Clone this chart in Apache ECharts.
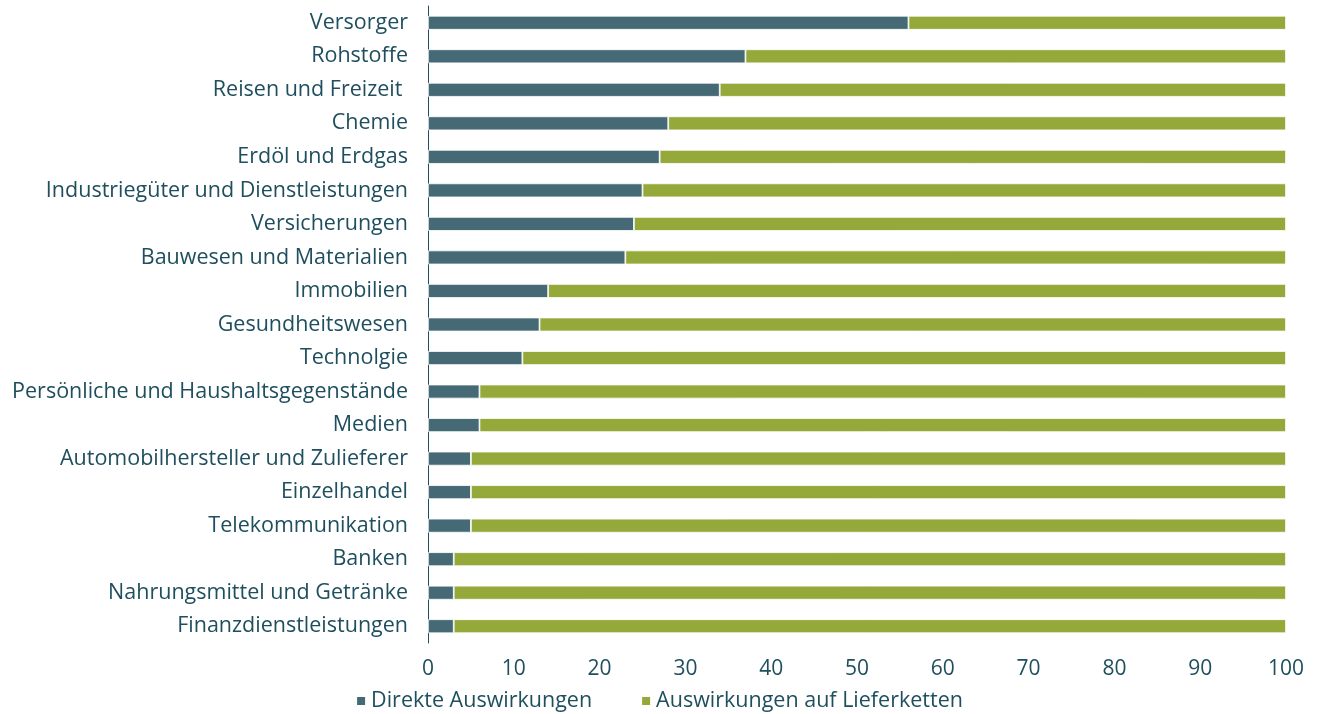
<!DOCTYPE html>
<html>
<head>
<meta charset="utf-8">
<script src="https://cdn.jsdelivr.net/npm/echarts@6/dist/echarts.min.js"></script>
<style>
  html, body { margin: 0; padding: 0; background: #fff; }
  #chart { width: 1318px; height: 714px; }
</style>
</head>
<body>
<div id="chart"></div>
<script>
// categories top to bottom as in the picture
const sectors = [
  'Versorger', 'Rohstoffe', 'Reisen und Freizeit ', 'Chemie', 'Erdöl und Erdgas',
  'Industriegüter und Dienstleistungen', 'Versicherungen', 'Bauwesen und Materialien',
  'Immobilien', 'Gesundheitswesen', 'Technolgie', 'Persönliche und Haushaltsgegenstände',
  'Medien', 'Automobilhersteller und Zulieferer', 'Einzelhandel', 'Telekommunikation',
  'Banken', 'Nahrungsmittel und Getränke', 'Finanzdienstleistungen'
];
const direkt = [56, 37, 34, 28, 27, 25, 24, 23, 14, 13, 11, 6, 6, 5, 5, 5, 3, 3, 3];
const lieferketten = [44, 63, 66, 72, 73, 75, 76, 77, 86, 87, 89, 94, 94, 95, 95, 95, 97, 97, 97];

const textColor = '#1f4f5e';
const chart = echarts.init(document.getElementById('chart'));

chart.setOption({
  backgroundColor: '#fff',
  animation: false,
  textStyle: { fontFamily: 'Open Sans' },
  grid: { left: 428, right: 32, top: 6, bottom: 71 },
  legend: {
    bottom: -3,
    left: 'center',
    itemWidth: 10,
    itemHeight: 10,
    itemGap: 48,
    icon: 'rect',
    textStyle: { color: textColor, fontSize: 21.5, fontFamily: 'Open Sans' },
    data: ['Direkte Auswirkungen', 'Auswirkungen auf Lieferketten']
  },
  xAxis: {
    type: 'value',
    min: 0,
    max: 100,
    interval: 10,
    axisLine: { show: false },
    axisTick: { show: false },
    splitLine: { show: false },
    axisLabel: { color: textColor, fontSize: 21, margin: 16 }
  },
  yAxis: {
    type: 'category',
    inverse: true,
    data: sectors,
    axisLine: { show: true, lineStyle: { color: '#1f4f5e', width: 1 } },
    axisTick: { show: false },
    axisLabel: { color: textColor, fontSize: 21.5, margin: 20 }
  },
  series: [
    {
      name: 'Direkte Auswirkungen',
      type: 'bar',
      stack: 'total',
      barWidth: 14,
      data: direkt,
      itemStyle: { color: '#456a75', borderColor: '#fff', borderWidth: 0.8 }
    },
    {
      name: 'Auswirkungen auf Lieferketten',
      type: 'bar',
      stack: 'total',
      barWidth: 14,
      data: lieferketten,
      itemStyle: { color: '#95a83a', borderColor: '#fff', borderWidth: 0.8 }
    }
  ]
});
</script>
</body>
</html>
